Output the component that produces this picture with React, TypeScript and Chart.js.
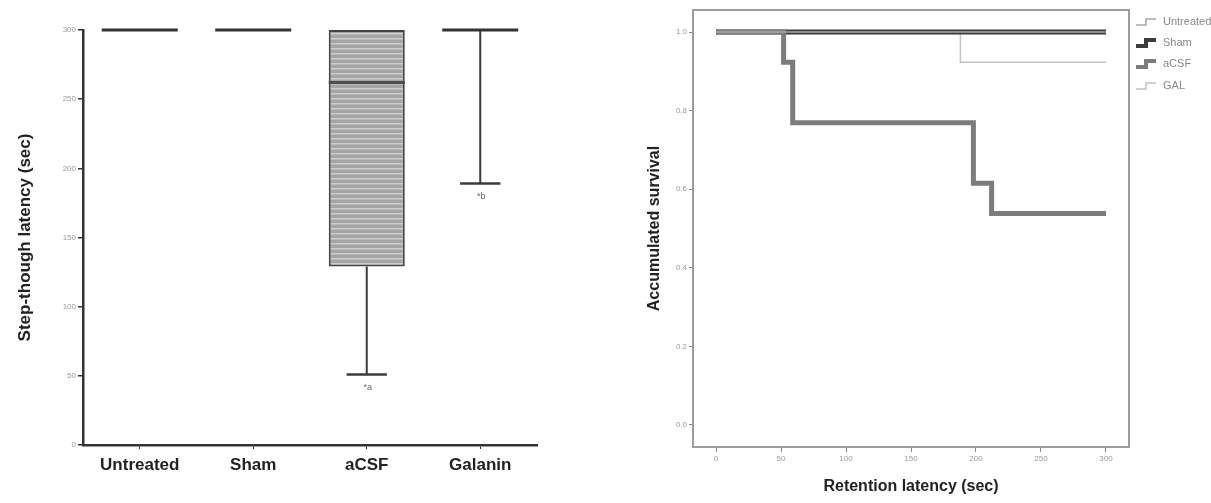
import React, { useEffect, useRef } from 'react';
import { Chart, registerables } from 'chart.js';

Chart.register(...registerables);

// ---------- Left chart data (box plot) ----------
const categories = ['Untreated', 'Sham', 'aCSF', 'Galanin'];
const whiskerLow = [300, 300, 51, 189];
const boxLow = [300, 300, 129, 300];
const boxMedian = [300, 300, 262, 300];
const boxHigh = [300, 300, 300, 300];
const whiskerHigh = [300, 300, 300, 300];
const boxNotes = ['', '', '*a', '*b'];
const latencyTicks = [0, 50, 100, 150, 200, 250, 300];

// ---------- Right chart data (Kaplan-Meier) ----------
const groups = ['Untreated', 'Sham', 'aCSF', 'GAL'];
const untreatedTimes = [0, 300];
const untreatedSurvival = [1, 1];
const shamTimes = [0, 300];
const shamSurvival = [1, 1];
const acsfTimes = [0, 52, 59, 198, 212, 300];
const acsfSurvival = [1, 0.923, 0.769, 0.615, 0.538, 0.538];
const galTimes = [0, 188, 300];
const galSurvival = [1, 0.923, 0.923];
const retentionTicks = [0, 50, 100, 150, 200, 250, 300];
const survivalTicks = [0, 0.2, 0.4, 0.6, 0.8, 1.0];

const FONT = 'Arial, "Liberation Sans", Helvetica, sans-serif';
Chart.defaults.font.family = FONT;

function makeStripePattern(ctx: CanvasRenderingContext2D) {
  const c = document.createElement('canvas');
  c.width = 8;
  c.height = 5;
  const g = c.getContext('2d')!;
  g.fillStyle = '#a5a5a5';
  g.fillRect(0, 0, 8, 5);
  g.fillStyle = '#cdcdcd';
  g.fillRect(0, 3, 8, 1.5);
  return ctx.createPattern(c, 'repeat');
}

const boxPlugin = {
  id: 'boxWhiskers',
  afterDatasetsDraw(chart: any) {
    const { ctx, scales } = chart;
    const x = scales.x;
    const y = scales.y;
    const meta = chart.getDatasetMeta(0);
    ctx.save();
    const line = (x1: number, y1: number, x2: number, y2: number) => {
      ctx.beginPath();
      ctx.moveTo(x1, y1);
      ctx.lineTo(x2, y2);
      ctx.stroke();
    };
    categories.forEach((_, i) => {
      const bar = meta.data[i];
      const cx = x.getPixelForValue(i);
      const half = bar.width / 2;
      const capHalf = half * 0.53;
      ctx.strokeStyle = '#3a3a3a';
      ctx.lineCap = 'butt';
      if (whiskerLow[i] < boxLow[i]) {
        ctx.lineWidth = 2;
        line(cx, y.getPixelForValue(boxLow[i]), cx, y.getPixelForValue(whiskerLow[i]));
        ctx.lineWidth = 2.5;
        line(cx - capHalf, y.getPixelForValue(whiskerLow[i]), cx + capHalf, y.getPixelForValue(whiskerLow[i]));
      }
      if (whiskerHigh[i] > boxHigh[i]) {
        ctx.lineWidth = 2;
        line(cx, y.getPixelForValue(boxHigh[i]), cx, y.getPixelForValue(whiskerHigh[i]));
        ctx.lineWidth = 2.5;
        line(cx - capHalf, y.getPixelForValue(whiskerHigh[i]), cx + capHalf, y.getPixelForValue(whiskerHigh[i]));
      }
      ctx.lineWidth = 3;
      ctx.strokeStyle = boxLow[i] < boxHigh[i] ? '#4e4e4e' : '#333333';
      line(cx - half, y.getPixelForValue(boxMedian[i]), cx + half, y.getPixelForValue(boxMedian[i]));
      if (boxNotes[i]) {
        ctx.fillStyle = '#666';
        ctx.font = '9px ' + FONT;
        ctx.textAlign = 'center';
        ctx.textBaseline = 'middle';
        ctx.fillText(boxNotes[i], cx + 1, y.getPixelForValue(whiskerLow[i]) + 13);
      }
    });
    ctx.restore();
  },
};

function BoxChart() {
  const ref = useRef<HTMLCanvasElement>(null);
  useEffect(() => {
    const canvas = ref.current!;
    const ctx = canvas.getContext('2d')!;
    const chart = new Chart(ctx, {
      type: 'bar',
      data: {
        labels: categories,
        datasets: [
          {
            data: categories.map((_, i) => [boxLow[i], boxHigh[i]]) as any,
            backgroundColor: makeStripePattern(ctx) as any,
            borderColor: '#444',
            borderWidth: 2,
            borderSkipped: false,
            categoryPercentage: 1,
            barPercentage: 0.67,
          },
        ],
      },
      options: {
        responsive: false,
        animation: false,
        layout: { padding: { top: 30, right: 63, left: 0, bottom: 0 } },
        plugins: { legend: { display: false }, tooltip: { enabled: false } },
        scales: {
          x: {
            afterFit: (s: any) => {
              s.height = 58;
            },
            grid: { display: true, drawOnChartArea: false, drawTicks: true, tickLength: 4, color: '#333', offset: false },
            border: { display: true, color: '#333', width: 2.5 },
            ticks: { color: '#222', font: { size: 17, weight: 'bold' }, padding: 6 },
          },
          y: {
            min: 0,
            max: 300,
            afterFit: (s: any) => {
              s.width = 83;
            },
            afterBuildTicks: (s: any) => {
              s.ticks = latencyTicks.map((v) => ({ value: v }));
            },
            grid: { display: true, drawOnChartArea: false, drawTicks: true, tickLength: 5, color: '#333', lineWidth: 1.5 },
            border: { display: true, color: '#333', width: 2.5 },
            ticks: { color: '#999', font: { size: 8 }, padding: 2 },
            title: {
              display: true,
              text: 'Step-though latency (sec)',
              color: '#222',
              font: { size: 17, weight: 'bold' },
              padding: { top: 15, bottom: 0 },
            },
          },
        },
      },
      plugins: [boxPlugin],
    });
    return () => chart.destroy();
  }, []);
  return <canvas ref={ref} width={600} height={503} style={{ width: 600, height: 503, display: 'block' }} />;
}

const seriesStyles = [
  { color: '#a8a8a8', width: 1.5, order: 0 },
  { color: '#3c3c3c', width: 5, order: 2 },
  { color: '#7c7c7c', width: 5, order: 1 },
  { color: '#c2c2c2', width: 1.5, order: 3 },
];

const framePlugin = {
  id: 'frameAndLegend',
  beforeDatasetsDraw(chart: any) {
    const { ctx, chartArea } = chart;
    ctx.save();
    ctx.strokeStyle = '#9c9c9c';
    ctx.lineWidth = 2;
    ctx.strokeRect(chartArea.left, chartArea.top, chartArea.right - chartArea.left, chartArea.bottom - chartArea.top);
    ctx.restore();
  },
  afterDraw(chart: any) {
    const { ctx, chartArea } = chart;
    ctx.save();
    const rowsY = [22, 43, 64, 86];
    groups.forEach((g, i) => {
      const st = seriesStyles[i];
      const gx = chartArea.right + 7;
      const gy = rowsY[i];
      ctx.strokeStyle = st.color;
      ctx.lineWidth = Math.min(st.width, 4);
      ctx.beginPath();
      ctx.moveTo(gx, gy + 3);
      ctx.lineTo(gx + 10, gy + 3);
      ctx.lineTo(gx + 10, gy - 3);
      ctx.lineTo(gx + 20, gy - 3);
      ctx.stroke();
      ctx.fillStyle = '#888';
      ctx.font = '11px ' + FONT;
      ctx.textAlign = 'left';
      ctx.textBaseline = 'middle';
      ctx.fillText(g, chartArea.right + 34, gy);
    });
    ctx.restore();
  },
};

function SurvivalChart() {
  const ref = useRef<HTMLCanvasElement>(null);
  useEffect(() => {
    const canvas = ref.current!;
    const ctx = canvas.getContext('2d')!;
    const timeSets = [untreatedTimes, shamTimes, acsfTimes, galTimes];
    const survSets = [untreatedSurvival, shamSurvival, acsfSurvival, galSurvival];
    const chart = new Chart(ctx, {
      type: 'line',
      data: {
        datasets: groups.map((g, i) => ({
          label: g,
          data: timeSets[i].map((t, k) => ({ x: t, y: survSets[i][k] })),
          borderColor: seriesStyles[i].color,
          borderWidth: seriesStyles[i].width,
          order: seriesStyles[i].order,
          stepped: 'before' as const,
          pointRadius: 0,
          fill: false,
        })),
      },
      options: {
        responsive: false,
        animation: false,
        layout: { padding: { top: 10, right: 82, left: 0, bottom: 0 } },
        plugins: { legend: { display: false }, tooltip: { enabled: false } },
        scales: {
          x: {
            type: 'linear',
            min: -17.7,
            max: 317.7,
            afterFit: (s: any) => {
              s.height = 56;
            },
            afterBuildTicks: (s: any) => {
              s.ticks = retentionTicks.map((v) => ({ value: v }));
            },
            grid: { display: true, drawOnChartArea: false, drawTicks: true, tickLength: 5, color: '#888' },
            border: { display: false },
            ticks: { color: '#999', font: { size: 8 }, padding: 2 },
            title: {
              display: true,
              text: 'Retention latency (sec)',
              color: '#222',
              font: { size: 16, weight: 'bold' },
              padding: { top: 0, bottom: 7 },
            },
          },
          y: {
            min: -0.056,
            max: 1.056,
            afterFit: (s: any) => {
              s.width = 93;
            },
            afterBuildTicks: (s: any) => {
              s.ticks = survivalTicks.map((v) => ({ value: v }));
            },
            grid: { display: true, drawOnChartArea: false, drawTicks: true, tickLength: 4, color: '#888' },
            border: { display: false },
            ticks: { color: '#999', font: { size: 8 }, padding: 2, callback: (v: any) => Number(v).toFixed(1) },
            title: {
              display: true,
              text: 'Accumulated survival',
              color: '#222',
              font: { size: 16, weight: 'bold' },
              padding: { top: 45, bottom: 0 },
            },
          },
        },
      },
      plugins: [framePlugin],
    });
    return () => chart.destroy();
  }, []);
  return <canvas ref={ref} width={611} height={503} style={{ width: 611, height: 503, display: 'block' }} />;
}

export default function App() {
  return (
    <div style={{ position: 'absolute', left: 0, top: 0, width: 1211, height: 503, background: '#fff', overflow: 'hidden' }}>
      <div style={{ position: 'absolute', left: 0, top: 0, width: 600, height: 503 }}>
        <BoxChart />
      </div>
      <div style={{ position: 'absolute', left: 600, top: 0, width: 611, height: 503 }}>
        <SurvivalChart />
      </div>
    </div>
  );
}
